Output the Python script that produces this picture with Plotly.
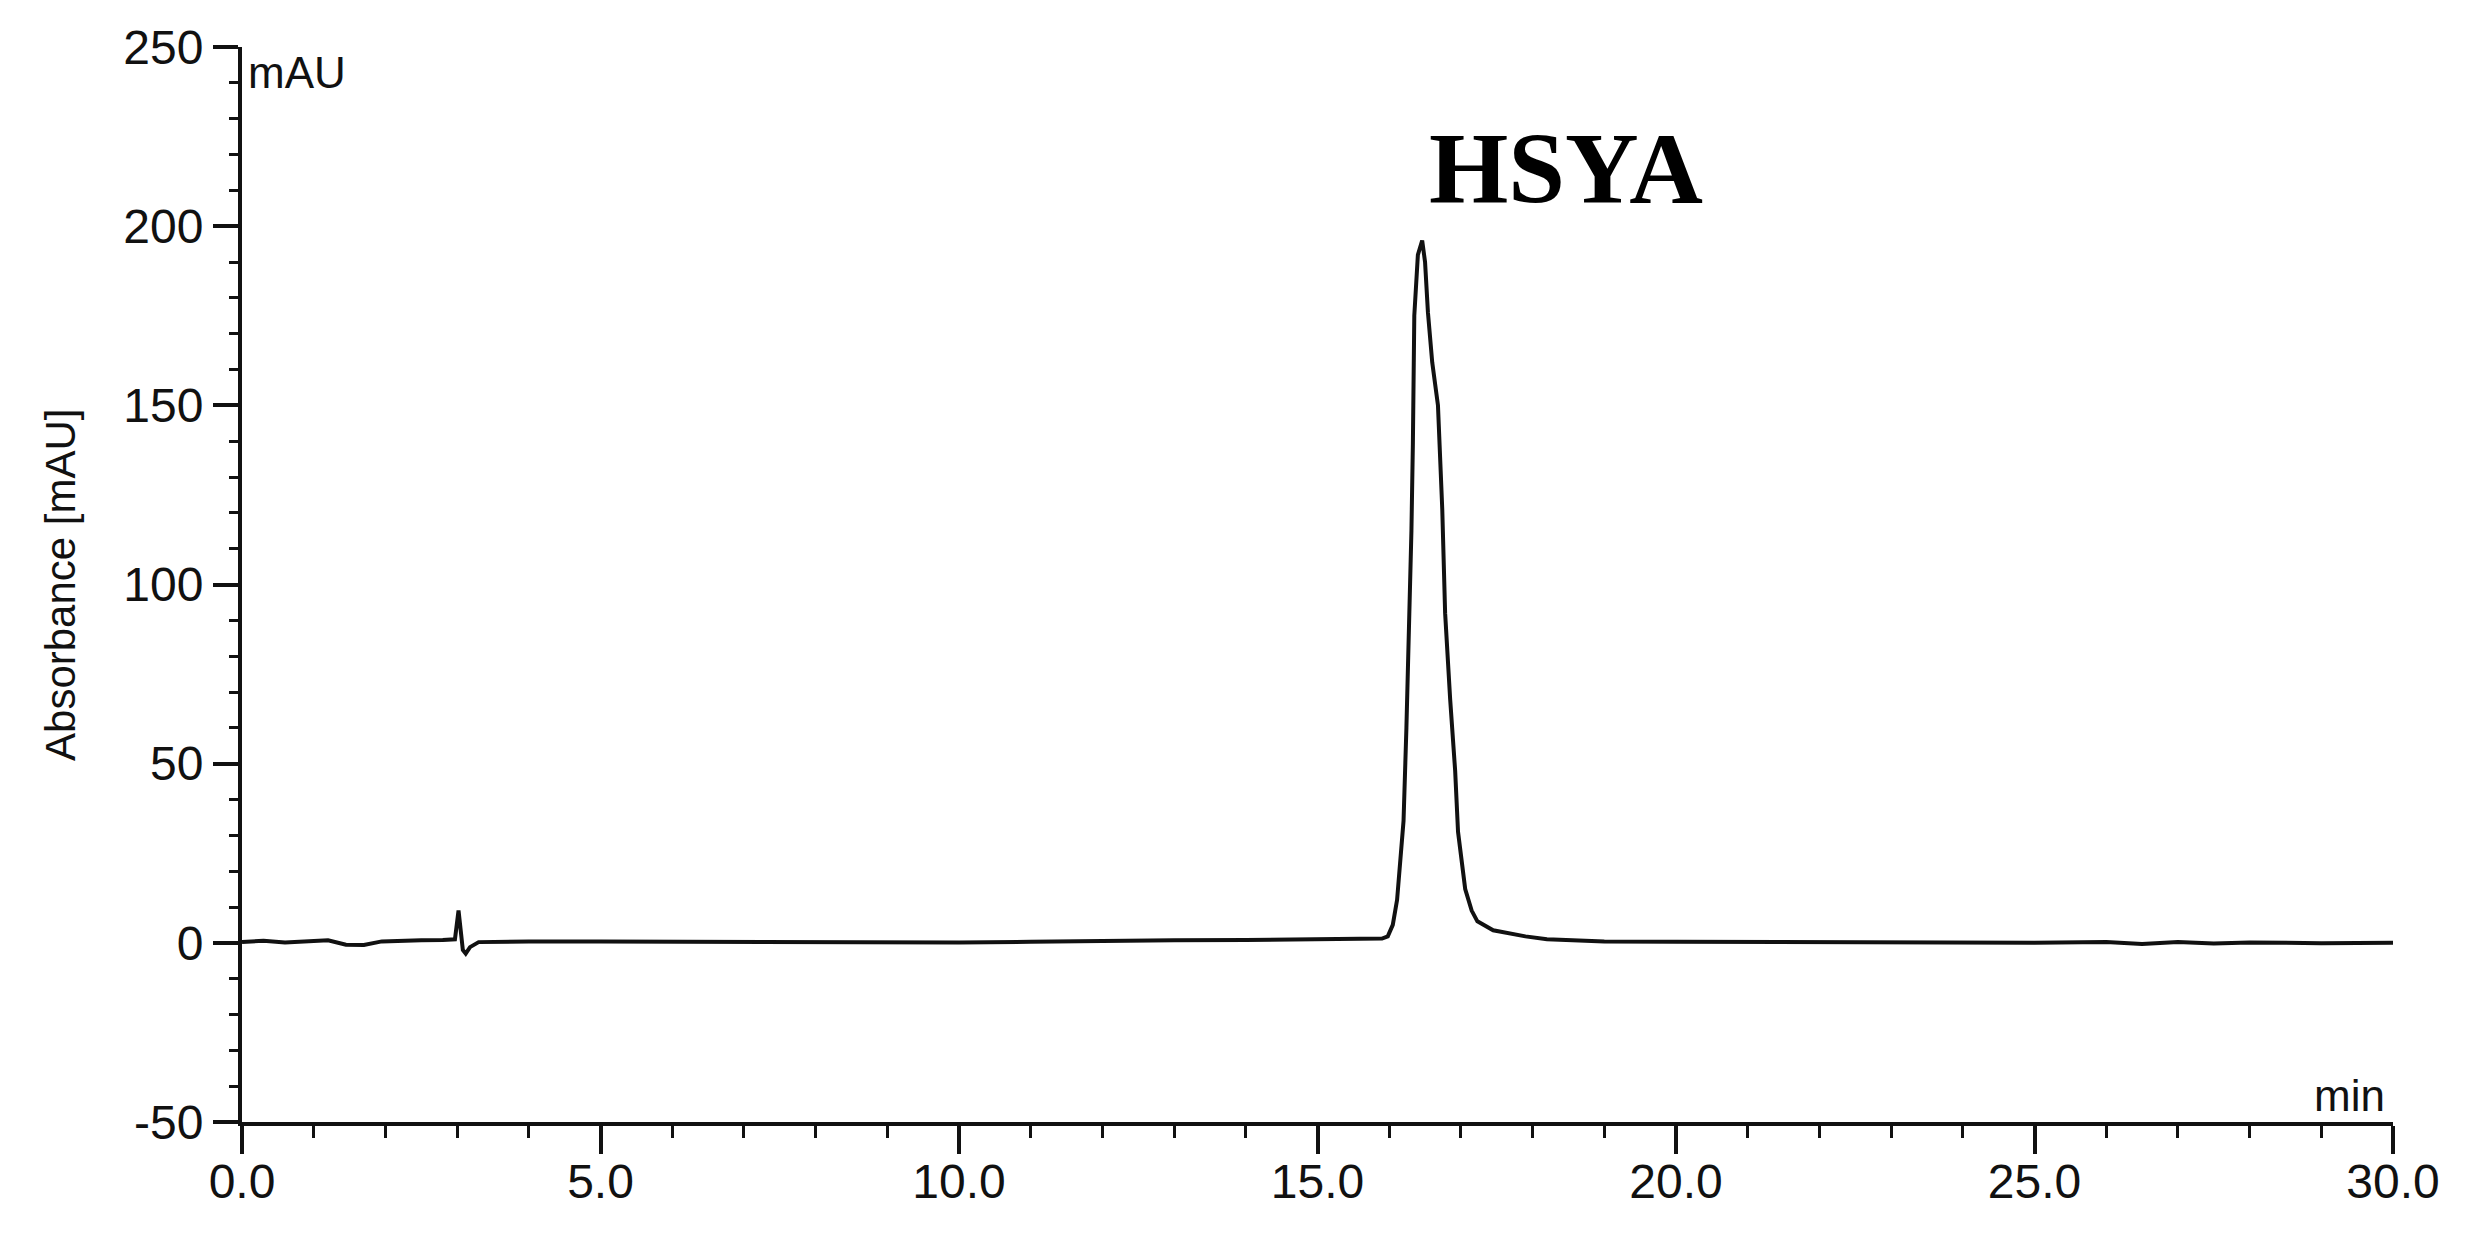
import plotly.graph_objects as go

# Retention time (min) and absorbance (mAU)
time_min = [0.0, 0.3, 0.6, 0.9, 1.2, 1.45, 1.7, 1.95, 2.2, 2.5, 2.8, 2.97, 3.02, 3.05, 3.08, 3.12, 3.18, 3.3, 3.6, 4.0,
            5.0, 6.0, 7.0, 8.0, 9.0, 10.0, 11.0, 12.0, 13.0, 14.0, 15.0, 15.5, 15.9, 15.98, 16.05, 16.11, 16.16,
            16.2, 16.24, 16.27, 16.31, 16.33, 16.35, 16.4, 16.46, 16.5, 16.54, 16.6, 16.68, 16.74, 16.78, 16.85,
            16.92, 16.96, 17.06, 17.15, 17.23, 17.45, 17.7, 17.9, 18.2, 18.6, 19.0, 20.0, 21.0, 22.0, 23.0, 24.0,
            25.0, 26.0, 26.5, 27.0, 27.5, 28.0, 29.0, 30.0]
absorbance = [0.2, 0.6, 0.1, 0.4, 0.7, -0.5, -0.6, 0.4, 0.6, 0.7, 0.8, 1.0, 9.0, 3.0, -2.0, -3.0, -1.2, 0.2, 0.4, 0.4,
              0.4, 0.3, 0.3, 0.2, 0.1, 0.1, 0.3, 0.6, 0.7, 0.8, 0.9, 1.0, 1.2, 1.8, 5.0, 12.0, 25.0,
              34.0, 60.0, 80.0, 115.0, 139.0, 175.0, 192.0, 196.0, 190.0, 176.0, 162.0, 150.0, 121.0, 92.0, 68.0,
              48.0, 31.0, 15.0, 9.0, 6.0, 3.5, 2.5, 1.8, 1.0, 0.6, 0.4, 0.3, 0.2, 0.2, 0.1, 0.1,
              0.0, 0.2, -0.3, 0.2, -0.2, 0.1, -0.1, 0.0]

x_tickvals = [0, 5, 10, 15, 20, 25, 30]
x_ticktext = ["0.0", "5.0", "10.0", "15.0", "20.0", "25.0", "30.0"]
y_tickvals = [-50, 0, 50, 100, 150, 200, 250]
y_ticktext = ["-50", "0", "50", "100", "150", "200", "250"]

peak_label = "HSYA"
peak_label_pos = (18.47, 216)

fig = go.Figure()
fig.add_trace(go.Scatter(x=time_min, y=absorbance, mode="lines",
                         line=dict(color="#111111", width=4), showlegend=False))

axis_font = dict(family="Liberation Sans, Arial, sans-serif", size=48, color="#111111")

fig.update_layout(
    width=2475, height=1243,
    margin=dict(l=234, r=90, t=39, b=129),
    paper_bgcolor="white", plot_bgcolor="white",
    xaxis=dict(range=[0, 30], tickvals=x_tickvals, ticktext=x_ticktext,
               showgrid=False, zeroline=False, showline=True, linecolor="#111111", linewidth=4,
               ticks="outside", ticklen=28, tickwidth=4, tickcolor="#111111", tickfont=axis_font,
               ticklabelstandoff=-14,
               minor=dict(dtick=1, ticks="outside", ticklen=12, tickwidth=3, tickcolor="#111111")),
    yaxis=dict(range=[-50, 250], tickvals=y_tickvals, ticktext=y_ticktext,
               showgrid=False, zeroline=False, showline=True, linecolor="#111111", linewidth=4,
               ticks="outside", ticklen=25, tickwidth=4, tickcolor="#111111", tickfont=axis_font,
               minor=dict(dtick=10, ticks="outside", ticklen=9, tickwidth=3, tickcolor="#111111")),
)

fig.add_annotation(x=0, y=243, xref="x", yref="y", text="mAU", showarrow=False,
                   xanchor="left", yanchor="middle", xshift=4,
                   font=dict(family="Liberation Sans, Arial, sans-serif", size=44, color="#111111"))
fig.add_annotation(x=30, y=-42.5, xref="x", yref="y", text="min", showarrow=False,
                   xanchor="right", yanchor="middle", xshift=-6,
                   font=dict(family="Liberation Sans, Arial, sans-serif", size=44, color="#111111"))
fig.add_annotation(x=-0.0844, y=0.5, xref="paper", yref="paper", text="Absorbance [mAU]",
                   showarrow=False, textangle=-90, xanchor="center", yanchor="middle",
                   font=dict(family="Liberation Sans, Arial, sans-serif", size=42, color="#111111"))
fig.add_annotation(x=peak_label_pos[0], y=peak_label_pos[1], xref="x", yref="y", text="<b>" + peak_label + "</b>",
                   showarrow=False, xanchor="center", yanchor="middle",
                   font=dict(family="Liberation Serif, Times New Roman, serif", size=102, color="#000000"))

fig.write_html("out.html")
